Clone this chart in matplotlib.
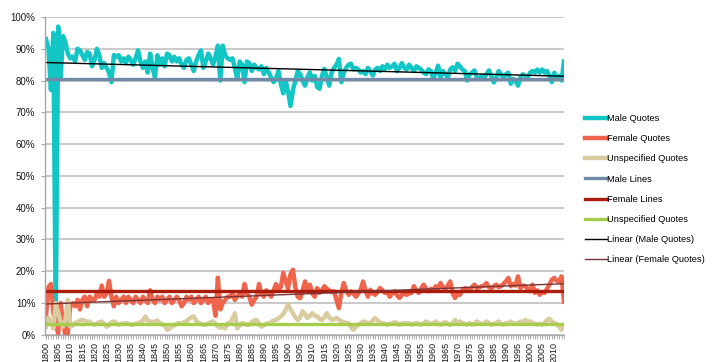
import numpy as np
import matplotlib
matplotlib.use("Agg")
import matplotlib.pyplot as plt
from matplotlib.ticker import MultipleLocator, FuncFormatter

plt.rcParams['font.family'] = ['Liberation Sans', 'DejaVu Sans']

years = np.arange(1800, 2015)

# share of quotes per year (%)
male_quotes = [
    93, 90, 77, 95, 4, 97, 81, 94, 92, 88.5,
    87, 87.5, 86, 90, 89.5, 88, 86.5, 89, 88.5, 84.5,
    86.5, 90, 88, 84, 85.5, 84, 82.5, 79.5, 88, 87.5,
    88, 86, 87, 85.5, 87.5, 86.5, 85, 87, 89.5, 86,
    84, 86, 82.5, 88.5, 84, 81, 88, 85, 87, 84.5,
    88.5, 88, 86, 87.5, 86, 87, 85, 84, 86.5, 87,
    85, 83, 86, 88, 89.5, 84, 86, 88.5, 87, 85,
    87.5, 91, 80, 91, 88, 87, 86.5, 87, 84, 80.5,
    86, 85, 79.5, 86, 85.5, 83, 85, 84, 83.5, 84.5,
    82, 84, 82.5, 81, 79.5, 80.5, 83, 79, 76, 80,
    76.5, 72, 77, 80, 83, 82, 80, 78.4, 81, 82.6,
    80, 81.5, 78, 77.4, 81.5, 83.7, 81, 78.4, 82.5, 84,
    85, 86.8, 79.5, 82.5, 84, 85, 85.3, 83.5, 84, 83.5,
    82.5, 83, 82, 84, 83, 81.6, 83.5, 84, 83, 84.5,
    83.5, 85, 84, 84.5, 85.3, 83, 84, 85.5, 84, 83.5,
    85, 84, 83, 84.5, 84, 83.5, 82.5, 82, 83.5, 83,
    80.5, 82.5, 84.7, 81, 83, 82, 81, 83.5, 84.2, 83,
    85.3, 84.5, 83.5, 83, 80, 82, 82.5, 83.2, 81, 80.5,
    81.5, 81, 82, 83.2, 81.5, 79.4, 81, 83, 82, 81,
    82, 82.5, 79, 80.5, 80, 78.4, 81, 82, 81.5, 81,
    82.5, 83, 82.5, 83.5, 82.5, 83.5, 82.5, 83, 81.5, 79.5,
    82.5, 80.5, 81.5, 80, 86,
]

female_quotes = [
    6, 15, 16, 7, 3, 0.5, 10, 4, 0, 0.5,
    9, 10, 9, 11, 8, 11, 12, 9, 12, 11,
    11, 13, 12, 15.5, 12, 13, 17, 12, 9, 12,
    10, 11, 12, 10, 12, 11, 10, 12, 11, 10,
    12, 11, 10, 14, 11, 10, 12, 11, 12, 10,
    11, 12, 10, 11, 12, 11, 9, 10, 12, 11,
    12, 10, 11, 12, 10, 11, 12, 10, 11, 11,
    6, 18, 8, 10, 11, 12, 12, 13, 11, 12,
    13, 12, 16, 13, 12, 9.5, 11, 12, 16, 13,
    12, 14, 13, 12, 14, 16, 14, 15, 19.5, 17,
    14.5, 19, 20.5, 15, 12, 11.5, 14, 16.8, 14, 15.8,
    13, 12, 14.7, 13.2, 14, 15.3, 14.5, 14, 13.5, 13.7,
    11, 8.4, 13.2, 16.3, 14, 12.6, 13.7, 13, 12, 13,
    14.2, 16.8, 14, 12, 14.2, 13, 12.6, 13.5, 14.7, 14,
    13.2, 13.5, 12, 13, 13.7, 12.5, 11.6, 12.5, 13, 12.6,
    13, 13.2, 15.3, 14, 13.2, 14.5, 15.8, 14.5, 13.7, 14.5,
    14, 15.3, 14.5, 16.3, 15, 14.2, 15.5, 16.8, 13, 11.6,
    13, 12.6, 14, 14.7, 14.5, 14.2, 15, 15.8, 14.7, 15,
    15.3, 15.5, 16.3, 15, 14.7, 15.3, 15.8, 15, 15.3, 16,
    16.8, 17.9, 15.3, 16, 15.5, 18.4, 14.7, 15.5, 15.3, 14.5,
    13.7, 15.8, 13.2, 14, 12.6, 13.5, 13.2, 14.5, 15.8, 17.4,
    17.9, 17, 16.8, 18.4, 10.5,
]

unspecified_quotes = [
    2.5, 5.5, 4, 2, 10, 7, 4, 2.6, 5, 11,
    2.6, 3, 3.7, 4, 4.5, 4.7, 4.5, 4, 4.2, 3.5,
    3.2, 3.5, 4, 4.2, 3.5, 2.6, 3, 4, 4.2, 3.8,
    3.2, 3.5, 3.5, 3.7, 3.5, 3.2, 3.2, 3.5, 3.7, 4,
    4.5, 5.8, 4.5, 4.2, 4, 4.2, 4.5, 3.8, 3.2, 3,
    1.6, 2, 2.6, 3, 3.5, 3.7, 3.5, 4, 4.2, 5,
    5.5, 5.8, 4.5, 3.7, 3.5, 3.2, 3.2, 3.5, 4, 4.2,
    3.5, 2.6, 2.2, 2.5, 2, 3.7, 3.7, 5, 6.8, 2,
    3, 3.7, 3.5, 3.2, 3.2, 4, 4.5, 4.7, 3.5, 2.6,
    3, 3.5, 3.7, 4, 4.5, 4.7, 5.2, 5.8, 6.5, 7.9,
    9.5, 8, 6.8, 5.5, 4.7, 5.5, 7.4, 6.5, 5.3, 6,
    6.8, 6, 5.8, 5, 4.7, 5.5, 6.8, 5.5, 4.7, 5,
    5.3, 4.8, 4.2, 4, 3.7, 3.7, 2.5, 1.6, 2.5, 3.2,
    3.5, 4.2, 4, 3.7, 3.8, 4.5, 5.3, 4.5, 3.8, 3.7,
    3.5, 3.2, 3.5, 3.5, 4, 3.7, 3.2, 3.5, 3.7, 3.5,
    3.7, 3.2, 3.5, 3.7, 3.5, 3.2, 3.7, 4.2, 3.7, 3.5,
    3.7, 4.2, 3.5, 3.2, 3.7, 4, 3.5, 3.2, 3.7, 4.7,
    3.5, 4.2, 3.7, 3.5, 3.2, 3.7, 3.2, 3.5, 4.2, 3.7,
    3.5, 3.7, 4.2, 3.7, 3.2, 3.5, 3.7, 4.2, 3.5, 3.2,
    3.7, 3.5, 4.2, 3.7, 3.5, 3.7, 4.2, 4, 4.7, 4.2,
    4.2, 3.7, 3.5, 3.2, 3.5, 3.2, 3.7, 4.7, 5, 4.2,
    3.7, 3.5, 2.5, 1.6, 3,
]

# share of lines (flat reference levels, %)
male_lines = 80.4
female_lines = 13.7
unspecified_lines = 3.4

male_quotes = np.array(male_quotes)
female_quotes = np.array(female_quotes)
unspecified_quotes = np.array(unspecified_quotes)

fig = plt.figure(figsize=(7.16, 3.62), dpi=100)
ax = fig.add_axes([0.063, 0.075, 0.725, 0.878])

ax.plot(years, male_quotes, color='#12C6C6', lw=3.2, label='Male Quotes', solid_joinstyle='round')
ax.plot(years, female_quotes, color='#F0644C', lw=3.2, label='Female Quotes', solid_joinstyle='round')
ax.plot(years, unspecified_quotes, color='#D8CCA0', lw=3.2, label='Unspecified Quotes', solid_joinstyle='round')
ax.plot(years, np.full(len(years), male_lines), color='#7089A8', lw=2.4, label='Male Lines')
ax.plot(years, np.full(len(years), female_lines), color='#AA1C0C', lw=2.4, label='Female Lines')
ax.plot(years, np.full(len(years), unspecified_lines), color='#A6CC4C', lw=2.4, label='Unspecified Quotes')

# linear trends
pm = np.polyfit(years, male_quotes, 1)
pf = np.polyfit(years, female_quotes, 1)
ax.plot(years, np.polyval(pm, years), color='black', lw=1, label='Linear (Male Quotes)')
ax.plot(years, np.polyval(pf, years), color='#7A3434', lw=1, label='Linear (Female Quotes)')

ax.set_xlim(1799.6, 2014.1)
ax.set_ylim(0, 100)
ax.yaxis.set_major_locator(MultipleLocator(10))
ax.yaxis.set_major_formatter(FuncFormatter(lambda v, p: '%d%%' % v))
ax.grid(axis='y', color='#CACACA', lw=1.5)
ax.set_axisbelow(True)

ax.set_xticks(np.arange(1800, 2015, 5))
ax.set_xticklabels([str(y) for y in range(1800, 2015, 5)], rotation=90)
ax.xaxis.set_minor_locator(MultipleLocator(1))

for s in ['top', 'right']:
    ax.spines[s].set_visible(False)
for s in ['left', 'bottom']:
    ax.spines[s].set_color('#A8A8A8')
    ax.spines[s].set_linewidth(1)

ax.tick_params(axis='y', length=3, color='#A8A8A8', labelsize=7, pad=4, labelcolor='#1A1A1A')
ax.tick_params(axis='x', which='both', length=3, color='#A8A8A8', labelsize=6.5, pad=2, labelcolor='#1A1A1A')

ax.legend(loc='upper left', bbox_to_anchor=(0.812, 0.695), bbox_transform=fig.transFigure,
          frameon=False, fontsize=6.7, handlelength=2.3, handletextpad=0.1,
          labelspacing=1.2, borderaxespad=0)

fig.savefig('out.png', dpi=100)
